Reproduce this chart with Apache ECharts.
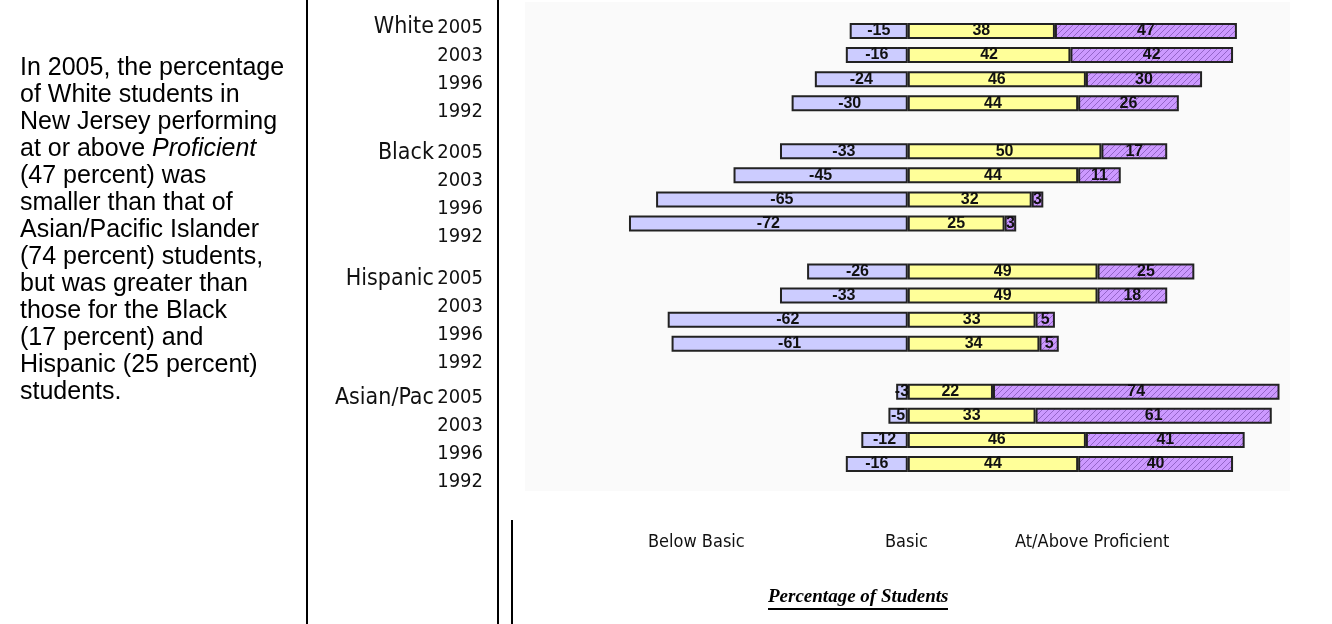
<!DOCTYPE html>
<html><head><meta charset="utf-8">
<script src="https://cdn.jsdelivr.net/npm/echarts@6/dist/echarts.min.js"></script>
<style>html,body{margin:0;padding:0;background:#fff}#c{width:1332px;height:624px}</style>
</head><body><div id="c"></div>
<script>
// ---- data ----
const groups = ['White', 'Black', 'Hispanic', 'Asian/Pac'];
const years = ['2005', '2003', '1996', '1992'];
const belowBasic = [[-15, -16, -24, -30], [-33, -45, -65, -72], [-26, -33, -62, -61], [-3, -5, -12, -16]];
const basic      = [[38, 42, 46, 44], [50, 44, 32, 25], [49, 49, 33, 34], [22, 33, 46, 44]];
const proficient = [[47, 42, 30, 26], [17, 11, 3, 3], [25, 18, 5, 5], [74, 61, 41, 40]];
const levelNames = ['Below Basic', 'Basic', 'At/Above Proficient'];
const axisTitle = 'Percentage of Students';
const noteLines = [
  'In 2005, the percentage', 'of White students in', 'New Jersey performing',
  'at or above {i|Proficient}', '(47 percent) was', 'smaller than that of',
  'Asian/Pacific Islander', '(74 percent) students,', 'but was greater than',
  'those for the Black', '(17 percent) and', 'Hispanic (25 percent)', 'students.'
];

// ---- build bar categories (blank slot between groups) ----
const cats = [], bb = [], ba = [], pr = [];
groups.forEach((g, gi) => {
  years.forEach((y, yi) => {
    cats.push(g + ' ' + y);
    bb.push(belowBasic[gi][yi]); ba.push(basic[gi][yi]); pr.push(proficient[gi][yi]);
  });
  if (gi < groups.length - 1) { cats.push(''); bb.push('-'); ba.push('-'); pr.push('-'); }
});

// ---- label axis (separate text column) ----
const gapSlots = [6, 6, 5];
const rowSlots = 4;
const labelCats = [];
groups.forEach((g, gi) => {
  years.forEach((y, yi) => {
    labelCats.push(yi === 0 ? '{g|' + g + '} {y|' + y + '}' : '{y|' + y + '}');
    if (yi < years.length - 1) for (let k = 1; k < rowSlots; k++) labelCats.push('');
  });
  if (gi < groups.length - 1) for (let k = 1; k < gapSlots[gi]; k++) labelCats.push('');
});

// hatch pattern for proficient
function hatch() {
  const n = 6, c = document.createElement('canvas');
  c.width = n; c.height = n;
  const x = c.getContext('2d');
  x.fillStyle = '#cc99ff'; x.fillRect(0, 0, n, n);
  x.strokeStyle = '#9466c8'; x.lineWidth = 1;
  x.beginPath();
  x.moveTo(-1, n + 1); x.lineTo(n + 1, -1);
  x.moveTo(-1, 1); x.lineTo(1, -1);
  x.moveTo(n - 1, n + 1); x.lineTo(n + 1, n - 1);
  x.stroke();
  return c;
}

const narrow = '"Liberation Sans Narrow","DejaVu Sans Condensed","Liberation Sans",sans-serif';
const barLabel = {
  show: true, position: 'inside', color: '#111', fontSize: 16, fontWeight: 'bold',
  fontFamily: '"Liberation Sans",Arial,sans-serif', formatter: p => p.value
};
const border = { borderColor: '#222', borderWidth: 2 };

const chart = echarts.init(document.getElementById('c'), null, { renderer: 'canvas' });
chart.setOption({
  animation: false,
  backgroundColor: '#fff',
  grid: [
    { left: 598, right: 37, top: 19, bottom: 148 },
    { left: 484, width: 2, top: 24, bottom: 139 }
  ],
  xAxis: [
    { type: 'value', min: -80, max: 100, show: false, gridIndex: 0 },
    { type: 'value', show: false, gridIndex: 1 }
  ],
  yAxis: [
    { type: 'category', data: cats, inverse: true, show: false, gridIndex: 0 },
    {
      type: 'category', data: labelCats, inverse: true, gridIndex: 1,
      axisLine: { show: false }, axisTick: { show: false },
      axisLabel: {
        interval: 0, margin: 1, color: '#111',
        rich: {
          g: { fontFamily: narrow, fontSize: 23, color: '#111' },
          y: { fontFamily: narrow, fontSize: 20, color: '#111' }
        }
      }
    }
  ],
  legend: levelNames.map((n, i) => ({
    data: [n], icon: 'none', itemWidth: 0, itemHeight: 0, selectedMode: false,
    left: [638, 875, 1005][i], top: 528,
    textStyle: { fontFamily: narrow, fontSize: 18, color: '#111' }
  })),
  series: [
    { type: 'bar', name: levelNames[0], stack: 's', data: bb, barWidth: 16,
      itemStyle: Object.assign({ color: '#ccccff' }, border), label: barLabel },
    { type: 'bar', name: levelNames[1], stack: 's', data: ba, barWidth: 16,
      itemStyle: Object.assign({ color: '#ffff99' }, border), label: barLabel },
    { type: 'bar', name: levelNames[2], stack: 's', data: pr, barWidth: 16,
      itemStyle: Object.assign({ color: { image: hatch(), repeat: 'repeat' } }, border), label: barLabel }
  ],
  graphic: [
    { type: 'rect', z: -10, shape: { x: 525, y: 2, width: 765, height: 489 }, style: { fill: '#fafafa' } },
    { type: 'line', shape: { x1: 307, y1: 0, x2: 307, y2: 624 }, style: { stroke: '#000', lineWidth: 2 } },
    { type: 'line', shape: { x1: 498, y1: 0, x2: 498, y2: 624 }, style: { stroke: '#000', lineWidth: 2 } },
    { type: 'line', shape: { x1: 512, y1: 520, x2: 512, y2: 624 }, style: { stroke: '#000', lineWidth: 2 } },
    { type: 'text', left: 20, top: 55, style: {
        text: noteLines.join('\n'), font: '25px "Liberation Sans", Arial, sans-serif', fill: '#000',
        lineHeight: 27, rich: { i: { fontStyle: 'italic', fontSize: 25, fontFamily: '"Liberation Sans", Arial, sans-serif', lineHeight: 27 } }
      } },
    { type: 'text', left: 768, top: 588, style: {
        text: axisTitle, font: 'italic bold 19px "Liberation Serif","Times New Roman",serif', fill: '#000'
      } },
    { type: 'line', shape: { x1: 768, y1: 609, x2: 948, y2: 609 }, style: { stroke: '#000', lineWidth: 2 } }
  ]
});
</script></body></html>
